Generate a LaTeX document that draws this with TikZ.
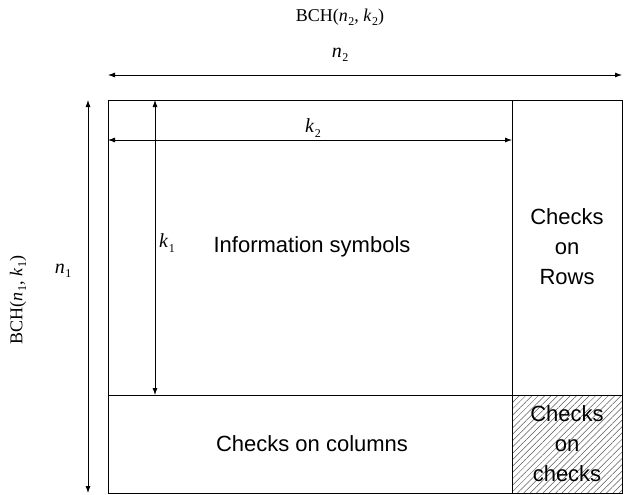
\documentclass[tikz,border=0pt]{standalone}
\usepackage{fontspec}
\setmainfont{Liberation Serif}
\setsansfont{Liberation Sans}
\usetikzlibrary{arrows.meta,patterns.meta}
% italic symbol with a lowered upright index, in the text font
\newcommand\symsub[2]{\textit{#1}\kern0.5pt\raisebox{-0.45ex}{\fontsize{12}{12}\selectfont #2}}
\begin{document}
\begin{tikzpicture}[x=1pt,y=-1pt,
  box/.style={draw,line width=1pt},
  dim/.style={line width=0.8pt,{Latex[length=7pt,width=5pt]}-{Latex[length=7pt,width=5pt]}},
  lbl/.style={font=\fontsize{18}{20}\selectfont},
  cell/.style={font=\sffamily\fontsize{22}{30}\selectfont,align=center}]
\useasboundingbox (0,0) rectangle (624,495);
% corner points of the array
\coordinate (tl) at (108,100);
\coordinate (tr) at (622,100);
\coordinate (bl) at (108,493);
\coordinate (br) at (622,493);
\coordinate (tm) at (512,100);
\coordinate (bm) at (512,493);
\coordinate (ml) at (108,395);
\coordinate (mr) at (622,395);
\coordinate (c) at (512,395);
% hatched check-on-checks block
\fill[pattern={Lines[angle=45,distance=4.5pt,line width=0.5pt]},pattern color=black!65] (c) rectangle (br);
% array outline and dividers
\draw[box] (tl) rectangle (br);
\draw[box] (tm) -- (bm);
\draw[box] (ml) -- (mr);
% dimension arrows
\coordinate (n2a) at (108,75);
\coordinate (n2b) at (622,75);
\draw[dim] (n2a) -- (n2b);
\coordinate (k2a) at (108,140);
\coordinate (k2b) at (512,140);
\draw[dim] (k2a) -- (k2b);
\coordinate (k1a) at (155,100);
\coordinate (k1b) at (155,395);
\draw[dim] (k1a) -- (k1b);
\coordinate (n1a) at (88,100);
\coordinate (n1b) at (88,493);
\draw[dim] (n1a) -- (n1b);
% dimension labels
\node[lbl] (bch2) at (340,17) {BCH(\symsub{n}{2}, \symsub{k}{2})};
\node[lbl,font=\fontsize{20}{22}\selectfont] (ln2) at (340,55) {\symsub{n}{2}};
\node[lbl,font=\fontsize{20}{22}\selectfont] (lk2) at (313,128) {\symsub{k}{2}};
\node[lbl,font=\fontsize{20}{22}\selectfont] (lk1) at (167,243) {\symsub{k}{1}};
\node[lbl,font=\fontsize{20}{22}\selectfont] (ln1) at (63,271) {\symsub{n}{1}};
\node[lbl,rotate=90] (bch1) at (18,300) {BCH(\symsub{n}{1}, \symsub{k}{1})};
% block contents
\node[cell] (info) at (312,247) {Information symbols};
\node[cell] (rows) at (567,247) {Checks\\on\\Rows};
\node[cell] (cols) at (312,444) {Checks on columns};
\node[cell] (cc) at (567,444) {Checks\\on\\checks};
\end{tikzpicture}
\end{document}
